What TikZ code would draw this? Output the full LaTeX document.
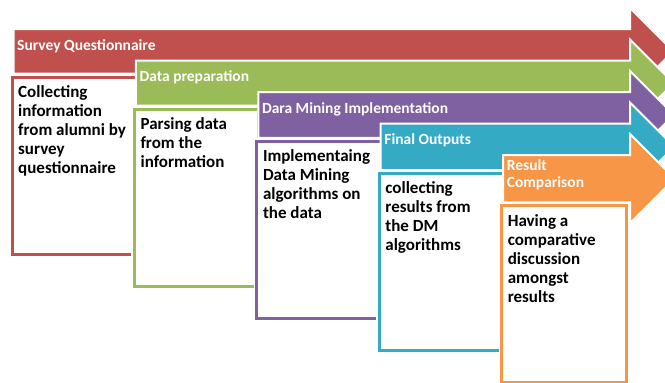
\documentclass[tikz,border=0pt]{standalone}
\usepackage{fontspec}
\setmainfont{Carlito}
\definecolor{cred}{HTML}{C0504D}
\definecolor{cgreen}{HTML}{9BBB59}
\definecolor{cpurple}{HTML}{7F60A0}
\definecolor{cteal}{HTML}{34AAC5}
\definecolor{corange}{HTML}{F79646}
\tikzset{
  bandarrow/.style={fill=#1, draw=white, line width=2pt, line join=miter},
  boxedge/.style={draw=#1, line width=3pt, fill=white},
  boxhalo/.style={draw=white, line width=6pt},
  bandtitle/.style={anchor=north west, inner sep=0pt, align=left, text=white,
    font=\bfseries\fontsize{15.5}{17.5}\selectfont},
  bodytext/.style={anchor=north west, inner sep=0pt, align=left, text=black,
    font=\bfseries\fontsize{17}{19}\selectfont}
}
% #1 index, #2 colour, #3 title, #4 title top offset, #5 body
\newcommand{\mystage}[5]{%
  \pgfmathsetmacro\L{13.5+122.4*#1}%
  \pgfmathsetmacro\T{29+31.5*#1}%
  \pgfmathsetmacro\B{77+32.2*#1}%
  \pgfmathsetmacro\Bb{\B-3.5}%
  \pgfmathsetmacro\Ht{\T-21}%
  \pgfmathsetmacro\Hb{\Bb+21}%
  \pgfmathsetmacro\C{(\Ht+\Hb)/2}%
  \pgfmathsetmacro\Tip{630+(\Hb-\Ht)/2}%
  \pgfmathsetmacro\BL{\L-1.5}%
  \pgfmathsetmacro\BR{\L+123}%
  \pgfmathsetmacro\BE{\B+177}%
  \draw[bandarrow=#2] (\L,\T) -- (630,\T) -- (630,\Ht) -- (\Tip,\C) -- (630,\Hb) -- (630,\Bb) -- (\L,\Bb) -- cycle;
  \draw[boxhalo] (\BL,\B) rectangle (\BR,\BE);
  \draw[boxedge=#2] (\BL,\B) rectangle (\BR,\BE);
  \node[bandtitle] (t#1) at (\L+3.5,\T+#4) {\rule{0pt}{12pt}#3};
  \node[bodytext] (b#1) at (\BL+6,\B+6) {\rule{0pt}{14pt}#5};
}
\begin{document}
\begin{tikzpicture}[x=1pt,y=-1pt]
\clip (0,0) rectangle (665,383);
\fill[white] (0,0) rectangle (665,383);
\mystage{0}{cred}{Survey Questionnaire}{9}{Collecting\\information\\from alumni by\\survey\\questionnaire}
\mystage{1}{cgreen}{Data preparation}{9}{Parsing data\\from the\\information}
\mystage{2}{cpurple}{Dara Mining Implementation}{9}{Implementaing\\Data Mining\\algorithms on\\the data}
\mystage{3}{cteal}{Final Outputs}{9}{collecting\\results from\\the DM\\algorithms}
\mystage{4}{corange}{Result\\Comparison}{3}{Having a\\comparative\\discussion\\amongst\\results}
\end{tikzpicture}
\end{document}
